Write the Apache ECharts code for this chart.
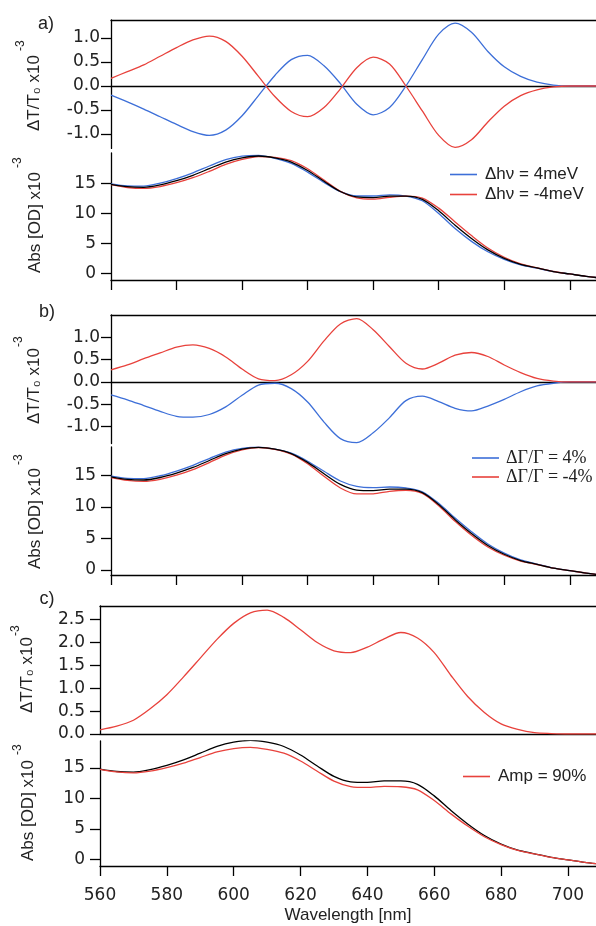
<!DOCTYPE html>
<html>
<head>
<meta charset="utf-8">
<script src="https://cdn.jsdelivr.net/npm/echarts@6/dist/echarts.min.js"></script>
<style>
  html, body { margin: 0; padding: 0; background: #fff; }
  #chart { width: 596px; height: 926px; }
</style>
</head>
<body>
<div id="chart"></div>
<script>
// Wavelength grid (nm)
const wavelength = [560, 565, 570, 575, 580, 585, 590, 595, 600, 605, 610, 615, 620, 625, 630,
  635, 640, 645, 650, 655, 660, 665, 670, 675, 680, 685, 690, 695, 700, 705, 710];

// Reference absorbance spectrum (x10^-3 OD), shown in black in every panel
const absRef = [14.8, 14.4, 14.3, 14.7, 15.4, 16.3, 17.4, 18.5, 19.2, 19.5, 19.2, 18.5, 17.1, 15.3, 13.6,
  12.7, 12.6, 12.85, 12.85, 12.3, 10.4, 8.0, 5.8, 3.9, 2.5, 1.5, 0.9, 0.3, -0.1, -0.5, -0.8];

// a) energy shift
const dTshiftPlus = [-0.19, -0.33, -0.48, -0.64, -0.8, -0.95, -1.03, -0.92, -0.62, -0.2, 0.22, 0.55, 0.64, 0.42, 0.05,
  -0.38, -0.6, -0.45, 0.0, 0.55, 1.08, 1.31, 1.12, 0.72, 0.4, 0.2, 0.08, 0.02, 0, 0, 0];
const dTshiftMinus = [0.16, 0.3, 0.44, 0.62, 0.8, 0.96, 1.04, 0.93, 0.62, 0.2, -0.22, -0.53, -0.64, -0.45, -0.06,
  0.38, 0.6, 0.46, 0, -0.52, -1.03, -1.28, -1.12, -0.75, -0.42, -0.2, -0.08, -0.02, 0, 0, 0];
const absShiftPlus = [14.88, 14.54, 14.51, 14.98, 15.74, 16.71, 17.84, 18.9, 19.47, 19.59, 19.11, 18.26, 16.82, 15.12, 13.58,
  12.86, 12.86, 13.04, 12.85, 12.06, 9.94, 7.44, 5.32, 3.59, 2.33, 1.41, 0.87, 0.29, -0.1, -0.5, -0.8];
const absShiftMinus = [14.73, 14.27, 14.11, 14.43, 15.06, 15.89, 16.95, 18.1, 18.93, 19.41, 19.29, 18.73, 17.38, 15.49, 13.63,
  12.54, 12.34, 12.65, 12.85, 12.52, 10.84, 8.55, 6.28, 4.22, 2.68, 1.59, 0.93, 0.31, -0.1, -0.5, -0.8];

// b) broadening
const dTbroadPlus = [-0.29, -0.4, -0.53, -0.66, -0.77, -0.79, -0.73, -0.56, -0.3, -0.07, -0.03, -0.15, -0.45, -0.9, -1.27,
  -1.36, -1.14, -0.8, -0.42, -0.32, -0.44, -0.59, -0.65, -0.54, -0.39, -0.22, -0.09, -0.03, 0, 0, 0];
const dTbroadMinus = [0.27, 0.38, 0.52, 0.65, 0.78, 0.83, 0.75, 0.56, 0.29, 0.07, 0.03, 0.16, 0.46, 0.92, 1.3,
  1.42, 1.17, 0.79, 0.42, 0.29, 0.42, 0.6, 0.66, 0.57, 0.38, 0.21, 0.08, 0.02, 0, 0, 0];
const absBroadPlus = [14.92, 14.57, 14.53, 14.98, 15.73, 16.64, 17.71, 18.74, 19.33, 19.53, 19.21, 18.56, 17.29, 15.69, 14.15,
  13.28, 13.09, 13.19, 13.03, 12.44, 10.59, 8.25, 6.08, 4.13, 2.67, 1.59, 0.94, 0.31, -0.1, -0.5, -0.8];
const absBroadMinus = [14.68, 14.24, 14.08, 14.42, 15.06, 15.94, 17.08, 18.26, 19.08, 19.47, 19.19, 18.43, 16.9, 14.9, 13.04,
  12.09, 12.1, 12.51, 12.67, 12.18, 10.22, 7.74, 5.52, 3.65, 2.34, 1.41, 0.87, 0.29, -0.1, -0.5, -0.8];

// c) amplitude
const dTamp = [0.09, 0.17, 0.3, 0.55, 0.86, 1.25, 1.66, 2.07, 2.42, 2.65, 2.71, 2.55, 2.28, 2.0, 1.82,
  1.78, 1.9, 2.08, 2.22, 2.1, 1.78, 1.28, 0.82, 0.47, 0.22, 0.1, 0.03, 0.01, 0, 0, 0];
const absAmp = [14.76, 14.33, 14.17, 14.46, 15.03, 15.76, 16.69, 17.61, 18.16, 18.36, 18.03, 17.4, 16.12, 14.44, 12.82,
  11.93, 11.78, 11.96, 11.9, 11.4, 9.63, 7.45, 5.45, 3.7, 2.41, 1.46, 0.89, 0.3, -0.1, -0.5, -0.8];

// Tick values
const xTicks = [560, 580, 600, 620, 640, 660, 680, 700];
const dTTicksAB = [-1.0, -0.5, 0.0, 0.5, 1.0];
const dTTicksC = [0.0, 0.5, 1.0, 1.5, 2.0, 2.5];
const absTicks = [0, 5, 10, 15];

// Legend labels
const nameShiftPlus = 'Δhν = 4meV';
const nameShiftMinus = 'Δhν = -4meV';
const nameBroadPlus = 'ΔΓ/Γ = 4%';
const nameBroadMinus = 'ΔΓ/Γ = -4%';
const nameAmp = 'Amp = 90%';

const BLUE = '#3d6fd8';
const RED = '#e8423c';
const INK = '#222';
const FONT = 'Liberation Sans';
const NUM_FONT = 'DejaVu Sans';

const pairs = vals => wavelength.map((w, i) => [w, vals[i]]);

const grids = [
  { left: 111, top: 20, width: 485, height: 128.4 },   // a) dT/T
  { left: 111, top: 153, width: 485, height: 127 },    // a) Abs
  { left: 111, top: 315, width: 485, height: 128.5 },  // b) dT/T
  { left: 111, top: 447, width: 485, height: 128 },    // b) Abs
  { left: 100, top: 606, width: 496, height: 128 },    // c) dT/T
  { left: 100, top: 741, width: 496, height: 125 }     // c) Abs
];

const lineCol = { color: '#000', width: 1.3 };

function mainX(gi, max, opts) {
  return {
    type: 'value', gridIndex: gi, position: 'bottom', min: 560, max: max,
    axisLine: { show: true, onZero: opts.onZero, lineStyle: lineCol },
    axisTick: { show: opts.ticks, length: 10, customValues: xTicks, lineStyle: lineCol },
    axisLabel: { show: opts.labels, customValues: xTicks, margin: 21, fontSize: 17, color: INK, fontFamily: NUM_FONT },
    splitLine: { show: false },
    name: opts.labels ? 'Wavelength [nm]' : '',
    nameLocation: 'middle', nameGap: 41,
    nameTextStyle: { fontSize: 17, color: INK, fontFamily: FONT }
  };
}
function topX(gi, max) {
  return {
    type: 'value', gridIndex: gi, position: 'top', min: 560, max: max,
    axisLine: { show: true, onZero: false, lineStyle: lineCol },
    axisTick: { show: false }, axisLabel: { show: false }, splitLine: { show: false }
  };
}
function yAx(gi, min, max, ticks, digits, margin) {
  return {
    type: 'value', gridIndex: gi, min: min, max: max,
    axisLine: { show: true, lineStyle: lineCol },
    axisTick: { show: true, length: 10, customValues: ticks, lineStyle: lineCol },
    axisLabel: {
      customValues: ticks, margin: margin, fontSize: 17, color: INK, fontFamily: NUM_FONT,
      formatter: v => v.toFixed(digits)
    },
    splitLine: { show: false }
  };
}

const xAxes = [
  mainX(0, 708, { onZero: true, ticks: false, labels: false }),
  mainX(1, 708, { onZero: false, ticks: true, labels: false }),
  mainX(2, 708, { onZero: true, ticks: false, labels: false }),
  mainX(3, 708, { onZero: false, ticks: true, labels: false }),
  mainX(4, 708.4, { onZero: true, ticks: false, labels: false }),
  mainX(5, 708.4, { onZero: false, ticks: true, labels: true }),
  topX(0, 708), topX(2, 708), topX(4, 708.4)
];

const yAxes = [
  yAx(0, -1.3, 1.375, dTTicksAB, 1, 11),
  yAx(1, -1.1, 20.0, absTicks, 0, 15),
  yAx(2, -1.38, 1.5, dTTicksAB, 1, 11),
  yAx(3, -0.8, 19.55, absTicks, 0, 15),
  yAx(4, 0, 2.8, dTTicksC, 1, 15),
  yAx(5, -1.1, 19.4, absTicks, 0, 15)
];

function line(name, gi, vals, color, z) {
  return {
    type: 'line', name: name, xAxisIndex: gi, yAxisIndex: gi, data: pairs(vals),
    smooth: 0.3, symbol: 'none', showSymbol: false, z: z || 2,
    lineStyle: { color: color, width: 1.3 }, itemStyle: { color: color },
    emphasis: { disabled: true }
  };
}

const series = [
  line(nameShiftPlus, 0, dTshiftPlus, BLUE),
  line(nameShiftMinus, 0, dTshiftMinus, RED),
  line(nameShiftPlus, 1, absShiftPlus, BLUE),
  line(nameShiftMinus, 1, absShiftMinus, RED),
  line('reference a', 1, absRef, '#000', 3),
  line(nameBroadPlus, 2, dTbroadPlus, BLUE),
  line(nameBroadMinus, 2, dTbroadMinus, RED),
  line(nameBroadPlus, 3, absBroadPlus, BLUE),
  line(nameBroadMinus, 3, absBroadMinus, RED),
  line('reference b', 3, absRef, '#000', 3),
  line(nameAmp, 4, dTamp, RED),
  line('reference c', 5, absRef, '#000', 2),
  line(nameAmp, 5, absAmp, RED, 3)
];

function legendAt(names, left, top, gap, textStyle) {
  return {
    data: names, orient: 'vertical', left: left, top: top,
    icon: 'rect', itemWidth: 27, itemHeight: 1.6, itemGap: gap, selectedMode: false,
    textStyle: Object.assign({ fontSize: 17, color: INK, fontFamily: FONT, padding: [0, 0, 0, 3] }, textStyle || {})
  };
}

const legends = [
  legendAt([nameShiftPlus, nameShiftMinus], 445, 161, 3),
  legendAt([nameBroadPlus, nameBroadMinus], 467, 444, 1, { fontFamily: 'Liberation Serif', fontSize: 18, padding: [0, 0, 0, 2] }),
  legendAt([nameAmp], 458, 763, 3)
];

// Rotated axis titles with a raised exponent
function yTitle(text, cx, yTop, supX, supY) {
  return [
    {
      type: 'text', x: cx, y: yTop, rotation: Math.PI / 2, silent: true,
      style: { text: text, fontSize: 17, fontFamily: FONT, fill: INK, align: 'right', verticalAlign: 'middle' }
    },
    {
      type: 'text', x: supX, y: supY, rotation: Math.PI / 2, silent: true,
      style: { text: '-3', fontSize: 12, fontFamily: FONT, fill: INK, align: 'left', verticalAlign: 'middle' }
    }
  ];
}
function panelTag(text, x, y) {
  return {
    type: 'text', x: x, y: y, silent: true,
    style: { text: text, fontSize: 18, fontFamily: FONT, fill: INK, align: 'center', verticalAlign: 'middle' }
  };
}
const dTTitle = 'ΔT/T₀ x10';
const absTitle = 'Abs [OD] x10';

const graphics = [].concat(
  yTitle(dTTitle, 34, 55, 21, 51),
  yTitle(absTitle, 35, 172, 18, 168),
  yTitle(dTTitle, 34, 348, 19, 347),
  yTitle(absTitle, 35, 468, 19, 465),
  yTitle(dTTitle, 27, 637, 16, 636),
  yTitle(absTitle, 28, 760, 18, 755),
  [panelTag('a)', 46, 24), panelTag('b)', 47, 312), panelTag('c)', 47, 599)]
);

const chart = echarts.init(document.getElementById('chart'), null, { renderer: 'canvas' });
chart.setOption({
  animation: false,
  backgroundColor: '#fff',
  textStyle: { fontFamily: FONT },
  grid: grids,
  xAxis: xAxes,
  yAxis: yAxes,
  legend: legends,
  series: series,
  graphic: graphics
});
</script>
</body>
</html>
